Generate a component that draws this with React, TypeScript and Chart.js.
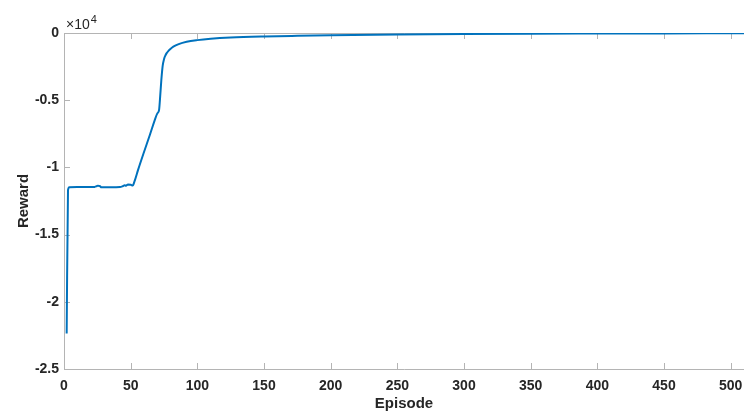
import React, { useEffect, useRef } from "react";
import { Chart, registerables } from "chart.js";

Chart.register(...registerables);

// Training curve: episode number vs. accumulated reward
const episodes = [
  2, 3, 4, 10, 20, 23, 24.5, 25.5, 27, 28, 35, 42, 44, 45.5, 46.5, 48, 50, 51.5,
  53, 55.5, 59.5, 64.5, 68, 70, 71.3, 72, 73, 74, 75, 76, 77, 78.5, 80, 82, 86,
  92, 100, 110, 125, 150, 175, 200, 250, 300, 350, 400, 450, 510,
];
const rewards = [
  -22350, -11700, -11480, -11460, -11460, -11450, -11400, -11360, -11400, -11480,
  -11480, -11460, -11400, -11330, -11360, -11270, -11290, -11350, -11000, -10200,
  -9000, -7550, -6500, -5980, -5730, -4900, -3500, -2450, -1950, -1680, -1500,
  -1310, -1170, -1020, -830, -655, -530, -430, -340, -260, -210, -170, -115, -80,
  -55, -40, -30, -20,
];

const xTicks = [0, 50, 100, 150, 200, 250, 300, 350, 400, 450, 500];
const yTicks = [0, -5000, -10000, -15000, -20000, -25000];
const yExponentBase = "\u00d710";
const yExponent = "4";

const AXIS_COLOR = "#b4b4b4";
const TEXT_COLOR = "#262626";
const LINE_COLOR = "#0072BD";
const FONT = "'Liberation Sans', Arial, Helvetica, sans-serif";

// MATLAB-style box: top border plus inward-pointing tick marks
const boxPlugin = {
  id: "matlabBox",
  beforeDatasetsDraw(chart: any) {
    const { ctx, chartArea, scales } = chart;
    const { left, right, top, bottom } = chartArea;
    const tickLen = 6;
    ctx.save();
    ctx.strokeStyle = AXIS_COLOR;
    ctx.lineWidth = 1;
    ctx.beginPath();
    ctx.moveTo(left + 0.5, top + 0.5);
    ctx.lineTo(right, top + 0.5);
    ctx.moveTo(left + 0.5, top);
    ctx.lineTo(left + 0.5, bottom + 0.5);
    ctx.lineTo(right, bottom + 0.5);
    for (const t of xTicks) {
      const px = Math.round(scales.x.getPixelForValue(t)) + 0.5;
      ctx.moveTo(px, bottom);
      ctx.lineTo(px, bottom - tickLen);
      ctx.moveTo(px, top);
      ctx.lineTo(px, top + tickLen);
    }
    for (const t of yTicks) {
      const py = Math.round(scales.y.getPixelForValue(t)) + 0.5;
      ctx.moveTo(left, py);
      ctx.lineTo(left + tickLen, py);
    }
    ctx.stroke();
    ctx.restore();
  },
  afterDraw(chart: any) {
    const { ctx, chartArea } = chart;
    ctx.save();
    ctx.fillStyle = TEXT_COLOR;
    ctx.textBaseline = "alphabetic";
    ctx.textAlign = "left";
    ctx.font = `14px ${FONT}`;
    const x0 = chartArea.left + 2;
    const y0 = chartArea.top - 4;
    ctx.fillText(yExponentBase, x0, y0);
    const w = ctx.measureText(yExponentBase).width;
    ctx.font = `11px ${FONT}`;
    ctx.fillText(yExponent, x0 + w + 1, y0 - 6);
    ctx.restore();
  },
};

export default function App() {
  const canvasRef = useRef<HTMLCanvasElement | null>(null);

  useEffect(() => {
    if (!canvasRef.current) return;
    const points = episodes.map((e, i) => ({ x: e, y: rewards[i] }));
    const chart = new Chart(canvasRef.current, {
      type: "line",
      data: {
        datasets: [
          {
            data: points,
            borderColor: LINE_COLOR,
            borderWidth: 2,
            pointRadius: 0,
            fill: false,
            cubicInterpolationMode: "monotone",
          },
        ],
      },
      options: {
        animation: false,
        responsive: false,
        devicePixelRatio: 1,
        layout: { padding: { top: 33, left: 0, right: 0, bottom: 0 } },
        plugins: {
          legend: { display: false },
          tooltip: { enabled: false },
        },
        scales: {
          x: {
            type: "linear",
            min: 0,
            max: 510,
            grid: { display: false, drawTicks: false },
            border: { display: false },
            ticks: {
              stepSize: 50,
              includeBounds: false,
              autoSkip: false,
              maxRotation: 0,
              padding: 9,
              color: TEXT_COLOR,
              font: { family: FONT, size: 14, weight: "bold" },
            },
            title: {
              display: true,
              text: "Episode",
              color: TEXT_COLOR,
              font: { family: FONT, size: 15, weight: "bold" },
              padding: { top: 0, bottom: 0 },
            },
            afterFit(scale: any) {
              scale.height = 44;
              scale.paddingLeft = 0;
              scale.paddingRight = 0;
            },
          },
          y: {
            type: "linear",
            min: -25000,
            max: 0,
            grid: { display: false, drawTicks: false },
            border: { display: false },
            ticks: {
              stepSize: 5000,
              includeBounds: false,
              padding: 5,
              color: TEXT_COLOR,
              font: { family: FONT, size: 14, weight: "bold" },
              callback: (v: any) => (v === 0 ? "0" : String(Number(v) / 10000)),
            },
            title: {
              display: true,
              text: "Reward",
              color: TEXT_COLOR,
              font: { family: FONT, size: 15, weight: "bold" },
              padding: { top: 15, bottom: 0 },
            },
            afterFit(scale: any) {
              scale.width = 64;
            },
          },
        },
      },
      plugins: [boxPlugin],
    } as any);
    return () => chart.destroy();
  }, []);

  return (
    <div
      style={{
        position: "absolute",
        left: 0,
        top: 0,
        width: 744,
        height: 413,
        background: "#ffffff",
        overflow: "hidden",
      }}
    >
      <canvas ref={canvasRef} width={744} height={413} />
    </div>
  );
}
